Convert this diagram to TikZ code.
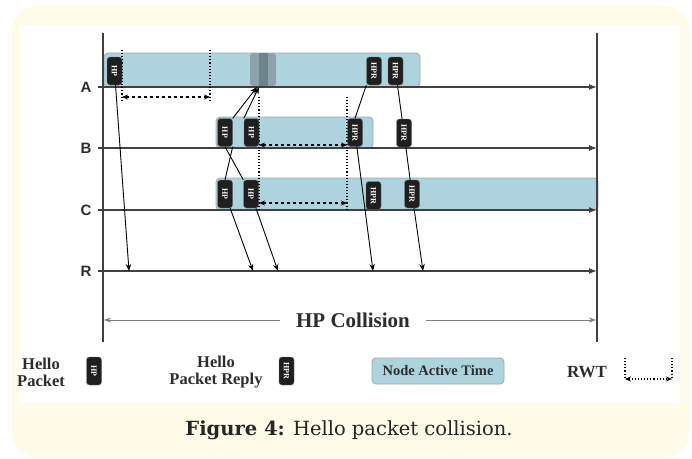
\documentclass[tikz,border=0pt]{standalone}
\usepackage{fontspec}
\setmainfont{Liberation Serif}
\newfontfamily\rowfont{Liberation Sans}
\newfontfamily\capfont{DejaVu Serif}
\usetikzlibrary{arrows.meta}
\definecolor{cardbg}{RGB}{255,251,232}
\definecolor{active}{RGB}{173,211,223}
\definecolor{collide}{RGB}{140,163,172}
\definecolor{collidedark}{RGB}{108,132,140}
\definecolor{ink}{RGB}{45,45,45}
\tikzstyle{timeline} = [line width=1.4pt, black!75, -{Latex[length=8pt,width=6pt]}]
\tikzstyle{border} = [line width=1.3pt, black!75]
\tikzstyle{activebox} = [fill=active, draw=black!35, line width=0.8pt, rounded corners=4pt]
\tikzstyle{hp} = [fill=black!88, draw=black!55, rounded corners=3pt,
    minimum width=15pt, minimum height=28pt, inner sep=0pt, text=white,
    font=\fontsize{8}{8}\selectfont\bfseries]
\tikzstyle{msg} = [line width=0.9pt, -{Stealth[length=7pt,width=5.5pt]}]
\tikzstyle{hop} = [line width=0.9pt]
\tikzstyle{rwt} = [dotted, line width=1.1pt]
\tikzstyle{gap} = [dashed, line width=1.1pt, {Stealth[length=6pt,width=5pt]}-{Stealth[length=6pt,width=5pt]}]
\tikzstyle{rowlabel} = [font=\rowfont\bfseries\fontsize{15}{15}\selectfont, text=ink]
\tikzstyle{legend} = [font=\bfseries\fontsize{16.5}{17}\selectfont, align=center, text=ink]
\def\packet#1#2#3{
    \node[hp] (#1) at #2 {\rotatebox{-90}{#3}};
}

\begin{document}
\begin{tikzpicture}[x=1pt, y=-1pt]
\useasboundingbox (0,0) rectangle (692,458);
\fill[white] (0,0) rectangle (692,458);
\fill[cardbg, rounded corners=26pt] (12,6) rectangle (690,457);
\fill[white] (19,25) rectangle (680,403);

% active times
\draw[activebox] (104,53) rectangle (420,87);
\draw[activebox] (216,117) rectangle (373,148);
\draw[activebox] (216,178) rectangle (598,210);
\fill[collide, rounded corners=3pt] (250,53) rectangle (276,86);
\fill[collidedark] (259,53) rectangle (268,86);

% frame and rows
\coordinate (topL) at (103,33);
\coordinate (botL) at (103,342);
\coordinate (topR) at (597,33);
\coordinate (botR) at (597,342);
\draw[border] (topL) -- (botL);
\draw[border] (topR) -- (botR);
\foreach \r/\y in {A/87,B/148,C/210,R/271} {
    \node[rowlabel] (lab\r) at (86,\y) {\r};
    \coordinate (\r0) at (98,\y);
    \coordinate (\r1) at (597,\y);
    \draw[timeline] (\r0) -- (\r1);
}

% rwt
\coordinate (wA1t) at (122,50);
\coordinate (wA1b) at (122,102);
\coordinate (wA2t) at (210,50);
\coordinate (wA2b) at (210,102);
\coordinate (wB1t) at (259,97);
\coordinate (wB1b) at (259,210);
\coordinate (wB2t) at (347,97);
\coordinate (wB2b) at (347,210);
\draw[rwt] (wA1t) -- (wA1b);
\draw[rwt] (wA2t) -- (wA2b);
\draw[rwt] (wB1t) -- (wB1b);
\draw[rwt] (wB2t) -- (wB2b);
\coordinate (gA1) at (122,97);
\coordinate (gA2) at (210,97);
\coordinate (gB1) at (259,145);
\coordinate (gB2) at (347,145);
\coordinate (gC1) at (259,203);
\coordinate (gC2) at (347,203);
\draw[gap] (gA1) -- (gA2);
\draw[gap] (gB1) -- (gB2);
\draw[gap] (gC1) -- (gC2);

% packets
\packet{hpA}{(114.5,71)}{HP}
\packet{hprA1}{(374,71)}{HPR}
\packet{hprA2}{(395.5,71)}{HPR}
\packet{hpB1}{(225,132.5)}{HP}
\packet{hpB2}{(251.5,132.5)}{HP}
\packet{hprB1}{(355,132.5)}{HPR}
\packet{hprB2}{(404,133)}{HPR}
\packet{hpC1}{(225,194)}{HP}
\packet{hpC2}{(251,194)}{HP}
\packet{hprC1}{(373.5,195.5)}{HPR}
\packet{hprC2}{(412,194)}{HPR}

% messages
\coordinate (hitA1) at (257,87);
\coordinate (hitA2) at (259,87);
\coordinate (rA) at (129,271);
\coordinate (rC1) at (253,271);
\coordinate (rC2) at (278,271);
\coordinate (rB1) at (373,271);
\coordinate (rC3) at (423,271);
\draw[msg] (hpA) -- (rA);
\draw[msg] (hpB1.north east) -- (hitA1);
\draw[msg] (hpB2.north west) -- (hitA2);
\draw[hop] (hpB1.south) -- (hpC2.north west);
\draw[hop] (hpB1.south east) -- (hpC1.north);
\draw[msg] (hpC1) -- (rC1);
\draw[msg] (hpC2) -- (rC2);
\draw[hop] (hprA1.south west) -- (hprB1.north);
\draw[msg] (hprB1) -- (rB1);
\draw[hop] (hprA2) -- (hprB2);
\draw[hop] (hprB2) -- (hprC2);
\draw[msg] (hprC2) -- (rC3);

% collision span
\node[font=\bfseries\fontsize{21}{21}\selectfont, text=ink, inner xsep=16pt] (hpc) at (353,320) {HP Collision};
\coordinate (hcL) at (104,320);
\coordinate (hcR) at (596,320);
\draw[black!50, line width=0.8pt, -{Stealth[length=7pt,width=5pt]}] (hpc) -- (hcL);
\draw[black!50, line width=0.8pt, -{Stealth[length=7pt,width=5pt]}] (hpc) -- (hcR);

% legend
\node[legend] (lgHP) at (41,372) {Hello\\Packet};
\packet{keyHP}{(94,371)}{HP}
\node[legend] (lgHPR) at (216,372) {Hello\\Packet Reply};
\packet{keyHPR}{(286.5,371)}{HPR}
\node[activebox, minimum width=132pt, minimum height=26pt, inner sep=0pt,
    font=\bfseries\fontsize{14.5}{14.5}\selectfont, text=ink] (lgNAT) at (438,371) {Node Active Time};
\node[legend, font=\bfseries\fontsize{17}{17}\selectfont] (lgRWT) at (587,372) {RWT};
\coordinate (kw1t) at (625,358);
\coordinate (kw1b) at (625,379);
\coordinate (kw2t) at (672,358);
\coordinate (kw2b) at (672,379);
\draw[rwt] (kw1t) -- (kw1b);
\draw[rwt] (kw2t) -- (kw2b);
\draw[rwt, {Stealth[length=6pt,width=5pt]}-{Stealth[length=6pt,width=5pt]}] (kw1b) -- (kw2b);

% caption
\node[font=\capfont\fontsize{19.5}{19.5}\selectfont, text=black!85] (cap) at (349,430) {\textbf{Figure 4:} Hello packet collision.};
\end{tikzpicture}
\end{document}
